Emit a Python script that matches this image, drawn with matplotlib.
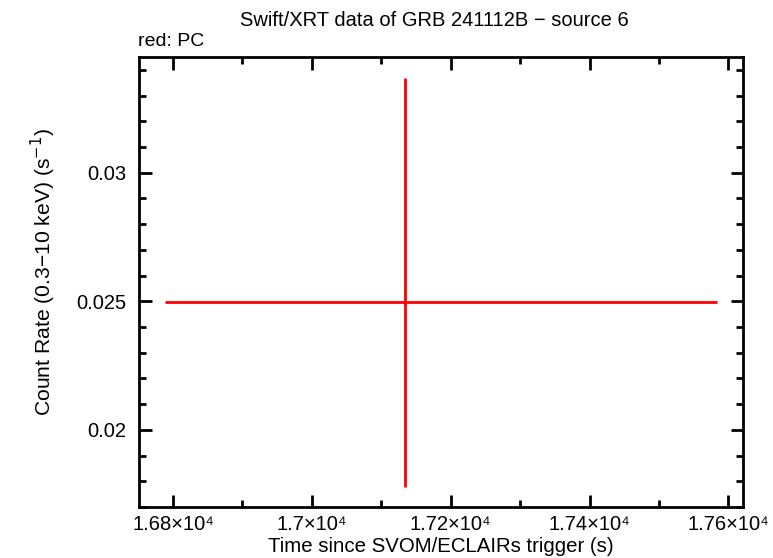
import matplotlib
matplotlib.use("Agg")
import matplotlib.pyplot as plt
from matplotlib.ticker import MultipleLocator, FuncFormatter

plt.rcParams['font.family'] = ['Liberation Sans', 'DejaVu Sans']

## data: one PC bin
t = [17134]
t_lo = [346]
t_hi = [450]
rate = [0.02496]
rate_lo = [0.00718]
rate_hi = [0.00874]

fig = plt.figure(figsize=(7.73, 5.58), dpi=100)
ax = fig.add_axes([0.1798, 0.0914, 0.7814, 0.8064])

ax.errorbar(t, rate, xerr=[t_lo, t_hi], yerr=[rate_lo, rate_hi],
            fmt='none', ecolor='red', elinewidth=2, capsize=0)

ax.set_xlim(16751, 17621)
ax.set_ylim(0.0170, 0.0345)

ax.xaxis.set_major_locator(MultipleLocator(200))
ax.xaxis.set_minor_locator(MultipleLocator(100))
ax.yaxis.set_major_locator(MultipleLocator(0.005))
ax.yaxis.set_minor_locator(MultipleLocator(0.001))

def sci(v, pos):
    m = v / 1e4
    s = ('%.2f' % m).rstrip('0').rstrip('.')
    return s + '\u00d710\u2074'

ax.xaxis.set_major_formatter(FuncFormatter(sci))
ax.yaxis.set_major_formatter(FuncFormatter(lambda v, p: ('%.3f' % v).rstrip('0')))

ax.tick_params(which='both', direction='in', top=True, right=True, width=2, labelsize=14.5)
ax.tick_params(axis='y', pad=9)
ax.tick_params(axis='x', pad=6)
ax.tick_params(which='major', length=9)
ax.tick_params(which='minor', length=5)
for s in ax.spines.values():
    s.set_linewidth(2)

ax.set_xlabel('Time since SVOM/ECLAIRs trigger (s)', fontsize=14.7, labelpad=2)
ax.set_ylabel('Count Rate (0.3\u221210 keV) (s$^{-1}$)', fontsize=15.2, labelpad=13)
ax.yaxis.label.set_y(0.522)
fig.text(0.562, 0.964, 'Swift/XRT data of GRB 241112B \u2212 source 6', ha='center', va='center', fontsize=14.5)
fig.text(0.179, 0.925, 'red: PC', ha='left', va='center', fontsize=14)

plt.savefig('out.png', dpi=100)
